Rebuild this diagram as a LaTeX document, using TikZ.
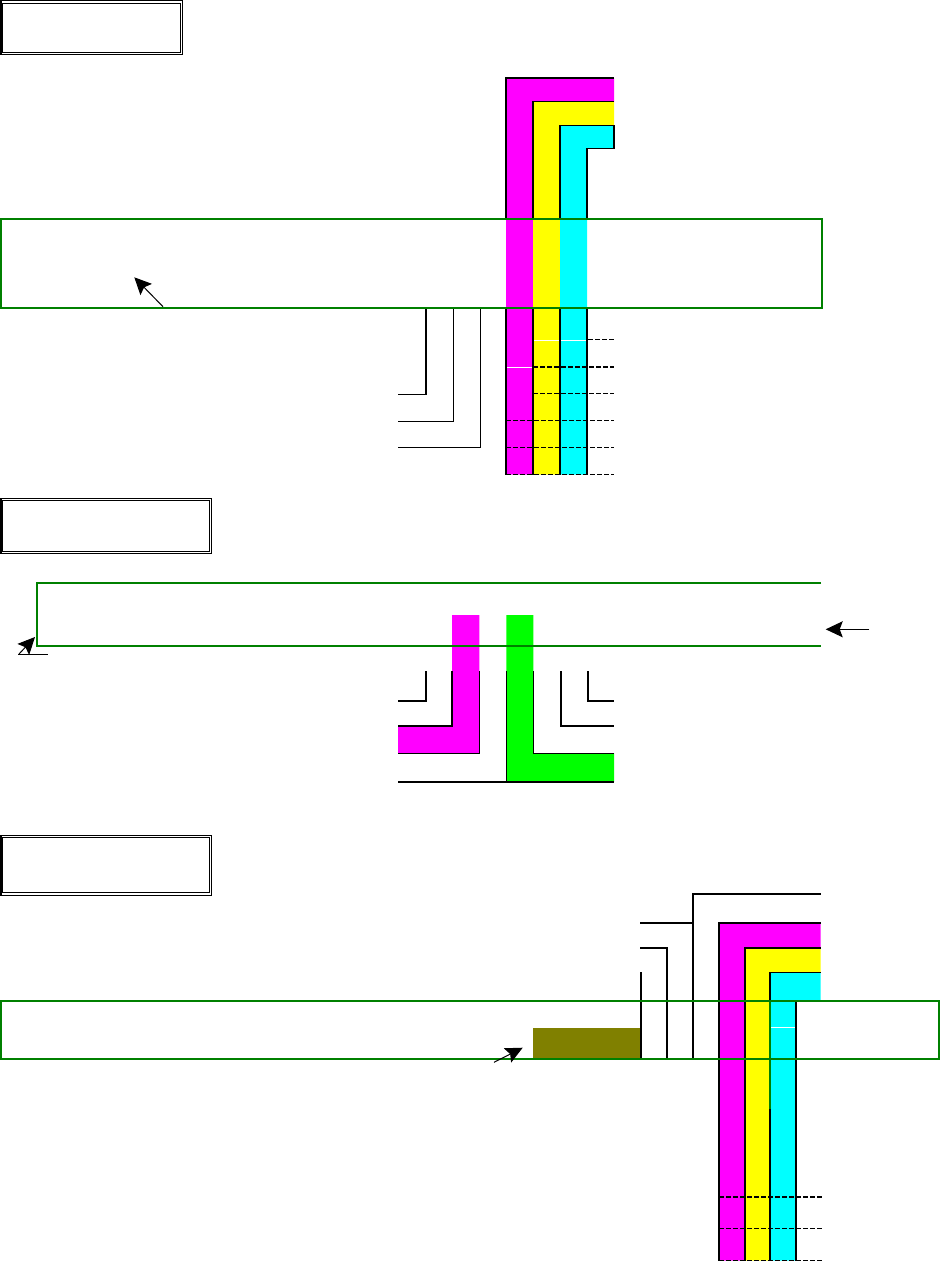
\documentclass[tikz,border=0pt]{standalone}
\usepackage{xcolor}
\usepackage{tikz}
\usetikzlibrary{arrows.meta}
\definecolor{boxgreen}{RGB}{0,128,0}
\definecolor{olivebar}{RGB}{128,128,0}
\definecolor{pinkbar}{RGB}{255,0,255}
\definecolor{yellowbar}{RGB}{255,255,0}
\definecolor{cyanbar}{RGB}{0,255,255}
\definecolor{limebar}{RGB}{0,255,0}

\begin{document}
\begin{tikzpicture}[x=1pt,y=-1pt,
    frame/.style={draw=black, line width=0.8pt},
    blk/.style={draw=black, line width=1.2pt},
    heavy/.style={draw=black, line width=1.6pt},
    gridline/.style={draw=black, line width=1.4pt, dash pattern=on 5pt off 2pt},
    cell/.style={draw=white, line width=0.6pt},
    greenbox/.style={draw=boxgreen, line width=2pt},
    pointer/.style={line width=1pt, -{Stealth[length=17pt,width=16pt,inset=3pt]}}]
    \useasboundingbox[fill=white] (0,0) rectangle (940,1262);

    % first part
    \draw[frame] (0.5,0.7) rectangle (182.5,54.3);
    \draw[frame] (2.2,3) rectangle (180.3,52.3);
    \draw[line width=1.6pt] (0.8,0.7) -- (0.8,54.3);

    \fill[pinkbar] (506,78) -- (614,78) -- (614,101.7) -- (533,101.7) -- (533,474.5) -- (506,474.5) -- cycle;
    \fill[yellowbar] (533,101.7) -- (614,101.7) -- (614,125.3) -- (560,125.3) -- (560,474.5) -- (533,474.5) -- cycle;
    \fill[cyanbar] (560,125.3) -- (614,125.3) -- (614,148.3) -- (587,148.3) -- (587,474.5) -- (560,474.5) -- cycle;
    \draw[cell] (506,367) -- (533,367);
    \draw[cell] (533,340) -- (587,340);

    \draw[blk] (506,219) -- (506,78) -- (614,78);
    \draw[blk] (533,219) -- (533,101.7) -- (614,101.7);
    \draw[blk] (560,219) -- (560,125.3) -- (614,125.3) -- (614,148.3) -- (587,148.3) -- (587,219);
    \foreach \x in {506,533,560,587}
      \draw[blk] (\x,308) -- (\x,474.5);
    \draw[blk] (426,308) -- (426,394.3) -- (398,394.3);
    \draw[blk] (453.3,308) -- (453.3,421.3) -- (398,421.3);
    \draw[blk] (480.3,308) -- (480.3,447.3) -- (398,447.3);
    \draw[gridline] (588,339.7) -- (614,339.7);
    \draw[gridline] (533,367) -- (614,367);
    \draw[gridline] (533,393.7) -- (614,393.7);
    \foreach \y in {420.7,447.7,474.7}
      \draw[gridline] (506,\y) -- (614,\y);

    \draw[greenbox] (1,219) rectangle (822,307.7);
    \coordinate (tailA) at (163,306.7);
    \coordinate (tipA) at (134.3,277.3);
    \draw[pointer] (tailA) -- (tipA);

    % second part
    \draw[frame] (0.5,498) rectangle (211.5,553.3);
    \draw[frame] (2.2,500.7) rectangle (209.3,551);
    \draw[line width=1.6pt] (0.8,498) -- (0.8,553.3);

    \fill[pinkbar] (452,615) -- (479.3,615) -- (479.3,753.3) -- (398,753.3) -- (398,725.7) -- (452,725.7) -- cycle;
    \fill[limebar] (506.3,615) -- (533.3,615) -- (533.3,753.3) -- (614,753.3) -- (614,781.7) -- (506.3,781.7) -- cycle;

    \draw[heavy] (426,671) -- (426,700.7) -- (398,700.7);
    \draw[heavy] (452,671) -- (452,725.7) -- (398,725.7);
    \draw[heavy] (479.3,671) -- (479.3,753.3) -- (398,753.3);
    \draw[heavy] (506.3,671) -- (506.3,781.7);
    \draw[heavy] (398,781.7) -- (614,781.7);
    \draw[heavy] (533.3,671) -- (533.3,753.3) -- (614,753.3);
    \draw[heavy] (561,671) -- (561,725.7) -- (614,725.7);
    \draw[heavy] (588,671) -- (588,700.7) -- (614,700.7);

    \draw[greenbox] (821,583) -- (36.7,583) -- (36.7,646) -- (821,646);
    \coordinate (tailB) at (19,654);
    \coordinate (tipB) at (35,637);
    \draw[pointer] (tailB) -- (tipB);
    \draw[line width=1pt] (18,654.5) -- (48,654.5);
    \coordinate (tailC) at (869.3,629.3);
    \coordinate (tipC) at (825.7,629.3);
    \draw[pointer] (tailC) -- (tipC);

    % third part
    \draw[frame] (0.5,835) rectangle (211.5,895.3);
    \draw[frame] (2.2,837.3) rectangle (209.3,892.7);
    \draw[line width=1.6pt] (0.8,835) -- (0.8,895.3);

    \fill[pinkbar] (719,923) -- (820.7,923) -- (820.7,948) -- (744.7,948) -- (744.7,1260.5) -- (719,1260.5) -- cycle;
    \fill[yellowbar] (744.7,948) -- (820.7,948) -- (820.7,972.3) -- (770,972.3) -- (770,1260.5) -- (744.7,1260.5) -- cycle;
    \fill[cyanbar] (770,972.3) -- (820.7,972.3) -- (820.7,1000) -- (795.7,1000) -- (795.7,1260.5) -- (770,1260.5) -- cycle;
    \fill[olivebar] (533,1028) rectangle (640.7,1058.7);
    \draw[cell] (771,1027) -- (795,1027);

    \draw[heavy] (640.7,972.3) -- (640.7,1058.7);
    \draw[heavy] (640,948) -- (667,948) -- (667,1058.7);
    \draw[heavy] (640,923) -- (692.7,923);
    \draw[heavy] (692.7,1058.7) -- (692.7,894) -- (820.7,894);
    \draw[heavy] (719,1260.5) -- (719,923) -- (820.7,923);
    \draw[heavy] (744.7,1260.5) -- (744.7,948) -- (820.7,948);
    \draw[heavy] (770,1260.5) -- (770,972.3) -- (820.7,972.3);
    \draw[heavy] (795.7,1001) -- (795.7,1260.5);
    \draw[boxgreen, line width=1.6pt] (770,1001) -- (770,1109);
    \foreach \y in {1197,1228.7,1260.7}
      \draw[gridline] (719,\y) -- (821.7,\y);

    \draw[greenbox] (1,1001) rectangle (939,1058.7);
    \coordinate (tailD) at (494,1062.3);
    \coordinate (tipD) at (522.7,1047.7);
    \draw[pointer] (tailD) -- (tipD);
  \end{tikzpicture}
\end{document}
